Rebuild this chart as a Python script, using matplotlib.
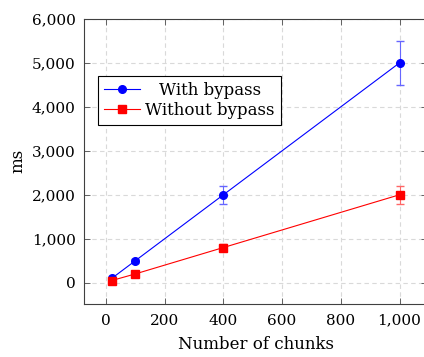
import matplotlib.pyplot as plt
from matplotlib.lines import Line2D
from matplotlib.ticker import FuncFormatter

chunks = [20, 100, 400, 1000]
with_bypass = [100, 500, 2000, 5000]
with_err = [10, 50, 200, 500]
without_bypass = [50, 200, 800, 2000]
without_err = [5, 20, 80, 200]

plt.rcParams['font.family'] = ['DejaVu Serif']
plt.rcParams['mathtext.fontset'] = 'dejavuserif'

fig = plt.figure(figsize=(4.24, 3.57), dpi=100)
ax = fig.add_axes([0.198, 0.149, 0.81, 0.798])

ax.errorbar(chunks, with_bypass, yerr=with_err, color='blue', marker='o', markersize=5.5,
            linewidth=0.8, capsize=3, elinewidth=0.8, ecolor=(0.4, 0.4, 1.0))
ax.errorbar(chunks, without_bypass, yerr=without_err, color='red', marker='s', markersize=5.5,
            linewidth=0.8, capsize=3, elinewidth=0.8, ecolor=(1.0, 0.4, 0.4))

ax.set_xlim(-75, 1095)
ax.set_ylim(-480, 6000)
ax.set_xticks([0, 200, 400, 600, 800, 1000])
ax.set_yticks([0, 1000, 2000, 3000, 4000, 5000, 6000])
fmt = FuncFormatter(lambda v, p: '{:,.0f}'.format(v))
ax.xaxis.set_major_formatter(fmt)
ax.yaxis.set_major_formatter(fmt)
ax.tick_params(direction='in', top=True, right=True, labelsize=11, length=4, width=0.6, color='0.3')
ax.tick_params(axis='x', pad=7)
ax.tick_params(axis='y', pad=6)
ax.grid(True, linestyle=(0, (4, 3)), color='0.85', linewidth=0.8)
ax.set_axisbelow(True)
for s in ax.spines.values():
    s.set_linewidth(0.8)
    s.set_color('0.25')

ax.set_xlabel('Number of chunks', fontsize=12, labelpad=6)
ax.set_ylabel('ms', fontsize=12, labelpad=4)

handles = [Line2D([], [], color='blue', marker='o', markersize=5.5, linewidth=0.8),
           Line2D([], [], color='red', marker='s', markersize=5.5, linewidth=0.8)]
leg = ax.legend(handles, ['With bypass', 'Without bypass'], loc='upper left',
                bbox_to_anchor=(0.04, 0.80), fontsize=12, frameon=True,
                fancybox=False, edgecolor='black', framealpha=1, handlelength=2.2,
                handletextpad=0.3, borderpad=0.35, labelspacing=0.2, borderaxespad=0)
leg.get_frame().set_linewidth(0.8)
leg.get_texts()[0].set_x(14)

fig.savefig('out.png', dpi=100)
